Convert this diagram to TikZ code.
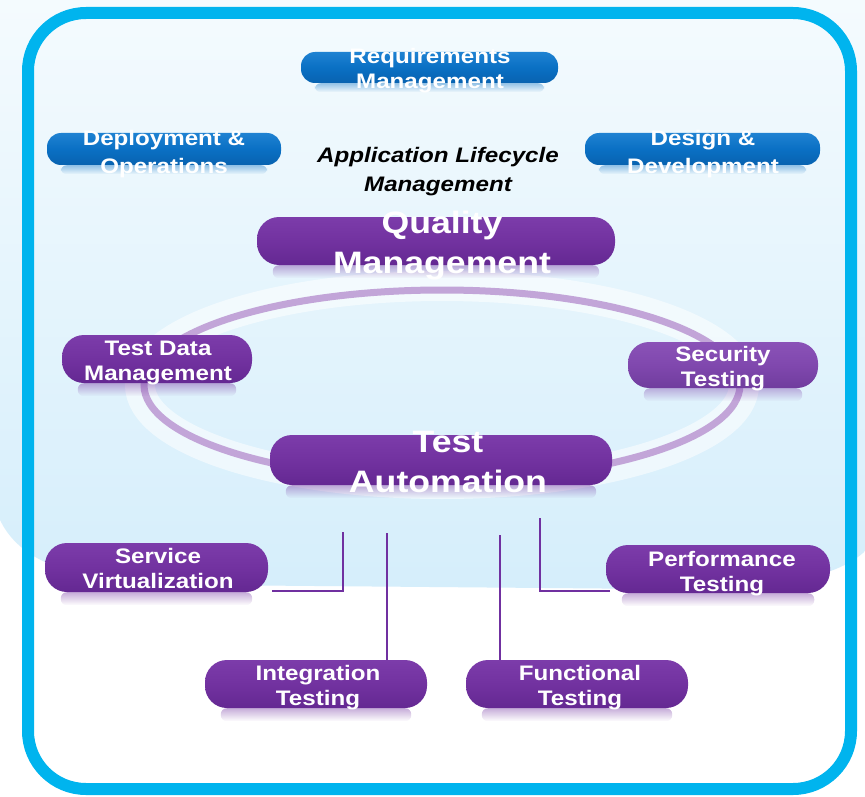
\documentclass[tikz,border=0pt]{standalone}
\usepackage{fontspec}
\setmainfont{Liberation Sans}[FakeStretch=1.15]
\usetikzlibrary{fadings,calc}
\definecolor{frameblue}{HTML}{00B4EE}
\definecolor{pillblue}{HTML}{0A70C4}
\definecolor{pillbluelt}{HTML}{1F82D2}
\definecolor{pillbluedk}{HTML}{0862B0}
\definecolor{pp}{HTML}{7232A0}
\definecolor{pplt}{HTML}{7C3CAA}
\definecolor{ppdk}{HTML}{642892}
\definecolor{sp}{HTML}{8048AE}
\definecolor{splt}{HTML}{8A52B7}
\definecolor{spdk}{HTML}{703C9E}
\definecolor{ringc}{HTML}{C2A5D8}
\definecolor{bgtop}{HTML}{F5FBFE}
\definecolor{bgbot}{HTML}{D5EEFB}
\definecolor{connc}{HTML}{7030A0}
\tikzfading[name=refl, top color=transparent!60, bottom color=transparent!100]
\begin{document}
\begin{tikzpicture}[x=1pt,y=-1pt,
  bluepill/.style={rectangle, inner sep=0pt, rounded corners=14pt,
    top color=pillbluelt, bottom color=pillbluedk, middle color=pillblue},
  purplepill/.style={rectangle, inner sep=0pt, rounded corners=22pt,
    top color=pplt, bottom color=ppdk, middle color=pp},
  secpill/.style={rectangle, inner sep=0pt, rounded corners=21pt,
    top color=splt, bottom color=spdk, middle color=sp},
  txt/.style={text=white, inner sep=0pt, align=center,
    font=\bfseries\fontsize{21}{25}\selectfont},
  widetxt/.style={text=white, inner sep=0pt, align=center,
    font=\bfseries\fontsize{21}{28}\selectfont},
  bigtxt/.style={text=white, inner sep=0pt, align=center,
    font=\bfseries\fontsize{31}{40}\selectfont},
  titletxt/.style={text=black, inner sep=0pt, align=center,
    font=\bfseries\itshape\fontsize{21}{29}\selectfont},
  conn/.style={connc, line width=2pt},
  reflbox/.style={path fading=refl, rounded corners=6pt}
]
\useasboundingbox (0,0) rectangle (865,797);
% background
\fill[white] (0,0) rectangle (865,797);
\shade[top color=bgtop, bottom color=bgbot]
  (-10,-10) -- (-10,470) .. controls (-10,560) and (60,584) .. (200,585)
  -- (660,589) .. controls (790,590) and (850,575) .. (875,540)
  -- (875,-10) -- cycle;
% ring
\draw[white, opacity=0.55, line width=30pt] (442,385) ellipse [x radius=302, y radius=99];
\draw[ringc, line width=7pt] (442,385) ellipse [x radius=298, y radius=95];

% pills
\node[bluepill, minimum width=257pt, minimum height=31pt] (req) at (429.5,67.5) {};
\node[bluepill, minimum width=234pt, minimum height=32pt] (dep) at (164,149) {};
\node[bluepill, minimum width=235pt, minimum height=32pt] (des) at (702.5,149) {};
\node[purplepill, minimum width=358pt, minimum height=48pt] (qm) at (436,241) {};
\node[purplepill, minimum width=190pt, minimum height=48pt] (tdm) at (157,359) {};
\node[secpill, minimum width=190pt, minimum height=46pt] (sec) at (723,365) {};
\node[purplepill, minimum width=342pt, minimum height=50pt] (ta) at (441,460) {};
\node[purplepill, minimum width=223pt, minimum height=49pt] (sv) at (156.5,567.5) {};
\node[purplepill, minimum width=224pt, minimum height=48pt] (pt) at (718,569) {};
\node[purplepill, minimum width=222pt, minimum height=48pt] (it) at (316,684) {};
\node[purplepill, minimum width=222pt, minimum height=48pt] (ft) at (577,684) {};

% reflections
\foreach \n/\c in {req/pillblue, dep/pillblue, des/pillblue}
  \fill[\c, reflbox] ($(\n.south west)+(14,0)$) rectangle ($(\n.south east)+(-14,9)$);
\foreach \n/\c in {qm/pp, tdm/pp, sec/sp, ta/pp, sv/pp, pt/pp, it/pp, ft/pp}
  \fill[\c, reflbox] ($(\n.south west)+(16,0)$) rectangle ($(\n.south east)+(-16,13)$);

% connectors
\coordinate (a1) at (343,532);
\coordinate (a1e) at (272,591);
\draw[conn] (a1) |- (a1e);
\coordinate (a2) at (387,533);
\draw[conn] (a2) -- (a2 |- it.north);
\coordinate (a3) at (500,535);
\draw[conn] (a3) -- (a3 |- ft.north);
\coordinate (a4) at (540,518);
\coordinate (a4e) at (610,591);
\draw[conn] (a4) |- (a4e);

% texts
\node[txt] (treq) at (430,71) {Requirements\\Management};
\node[widetxt] (tdep) at (164,154) {Deployment \&\\Operations};
\node[widetxt] (tdes) at (703,154) {Design \&\\Development};
\node[titletxt] (ttitle) at (438,172) {Application Lifecycle\\Management};
\node[bigtxt] (tqm) at (442,246) {Quality\\Management};
\node[txt] (ttdm) at (158,363) {Test Data\\Management};
\node[txt] (tsec) at (723,369) {Security\\Testing};
\node[bigtxt] (tta) at (448,462) {Test\\Automation};
\node[txt] (tsv) at (158,568) {Service\\Virtualization};
\node[txt] (tpt) at (722,574) {Performance\\Testing};
\node[txt] (tit) at (318,688) {Integration\\Testing};
\node[txt] (tft) at (580,688) {Functional\\Testing};

% frame
\draw[frameblue, line width=12pt, rounded corners=58pt] (28,13) rectangle (851,789);
\end{tikzpicture}
\end{document}
